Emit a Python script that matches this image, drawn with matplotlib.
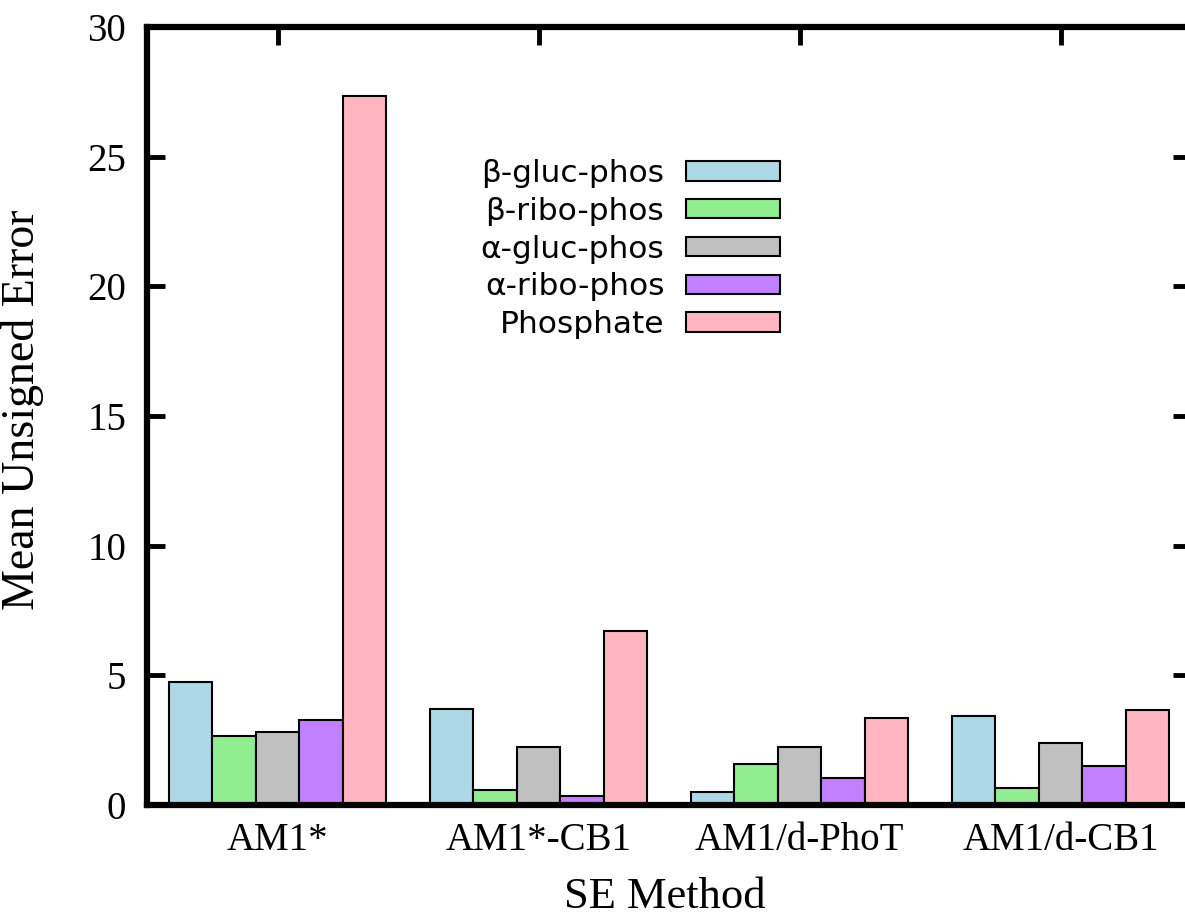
import matplotlib
matplotlib.use("Agg")
import matplotlib.pyplot as plt
import numpy as np

methods = ["AM1*", "AM1*-CB1", "AM1/d-PhoT", "AM1/d-CB1"]
series = ["β-gluc-phos", "β-ribo-phos", "α-gluc-phos", "α-ribo-phos", "Phosphate"]
beta_gluc_phos = [4.75, 3.69, 0.50, 3.43]
beta_ribo_phos = [2.67, 0.58, 1.57, 0.67]
alpha_gluc_phos = [2.83, 2.25, 2.24, 2.38]
alpha_ribo_phos = [3.28, 0.35, 1.03, 1.50]
phosphate = [27.35, 6.72, 3.37, 3.66]
colors = ["#add8e6", "#90ee90", "#c0c0c0", "#c080ff", "#ffb6c1"]
yticks = [0, 5, 10, 15, 20, 25, 30]

values = [beta_gluc_phos, beta_ribo_phos, alpha_gluc_phos, alpha_ribo_phos, phosphate]

W, H, DPI = 1185, 918, 100
fig = plt.figure(figsize=(W / DPI, H / DPI), dpi=DPI)
# axes run slightly past the right edge of the canvas
ax = fig.add_axes([147 / W, 1 - 805 / H, (1191 - 147) / W, (805 - 27) / H])

x = np.arange(len(methods))
n = len(series)
width = 1.0 / (n + 1)
handles = []
for i, (vals, col, name) in enumerate(zip(values, colors, series)):
    b = ax.bar(x + (i - (n - 1) / 2) * width, vals, width=width, color=col,
               edgecolor="black", linewidth=1.5, label=name, zorder=2)
    handles.append(b)

ax.set_xlim(-0.5, len(methods) - 0.5)
ax.set_ylim(0, 30)
ax.set_yticks(yticks)
ax.set_xticks(x)
ax.set_xticklabels(methods)

serif = "Liberation Serif"
for lab in ax.get_xticklabels() + ax.get_yticklabels():
    lab.set_fontfamily(serif)
    lab.set_fontsize(28)

ax.tick_params(axis="y", direction="in", left=True, right=True,
               length=13, width=3.5, pad=15)
ax.tick_params(axis="x", direction="in", bottom=False, top=True,
               length=13, width=3.5, pad=12)

for sp in ax.spines.values():
    sp.set_linewidth(4.5)

ax.set_xlabel("SE Method", fontfamily=serif, fontsize=32)
ax.set_ylabel("Mean Unsigned Error", fontfamily=serif, fontsize=33)
ax.xaxis.set_label_coords((665 - 147) / 1044, (805 - 877) / 778)
ax.yaxis.set_label_coords((44 - 147) / 1044, (805 - 410) / 778)

leg = fig.legend(handles=handles, labels=series, loc="upper right",
                 bbox_to_anchor=(780 / W, 1 - 159 / H), frameon=False,
                 markerfirst=False, borderpad=0, borderaxespad=0,
                 handlelength=3.0, handleheight=0.58, handletextpad=0.7,
                 labelspacing=0.28, prop={"family": "DejaVu Sans", "size": 22.5})

fig.savefig("out.png", dpi=DPI)
